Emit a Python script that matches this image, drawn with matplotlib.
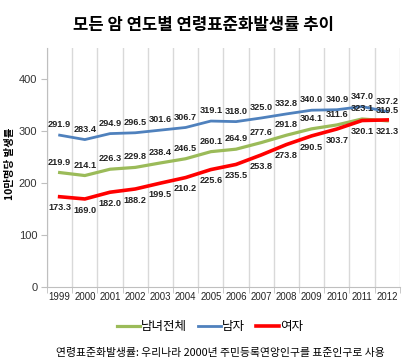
import matplotlib
matplotlib.use("Agg")
import matplotlib.pyplot as plt
import numpy as np

plt.rcParams['font.family'] = ['Noto Sans CJK KR', 'DejaVu Sans']

years = ['1999', '2000', '2001', '2002', '2003', '2004', '2005',
         '2006', '2007', '2008', '2009', '2010', '2011', '2012']
total = [219.9, 214.1, 226.3, 229.8, 238.4, 246.5, 260.1,
         264.9, 277.6, 291.8, 304.1, 311.6, 323.1, 319.5]
male = [291.9, 283.4, 294.9, 296.5, 301.6, 306.7, 319.1,
        318.0, 325.0, 332.8, 340.0, 340.9, 347.0, 337.2]
female = [173.3, 169.0, 182.0, 188.2, 199.5, 210.2, 225.6,
          235.5, 253.8, 273.8, 290.5, 303.7, 320.1, 321.3]
series_names = ['남녀전체', '남자', '여자']

fig = plt.figure(figsize=(4.2, 3.64), dpi=100)
ax = fig.add_axes([0.112, 0.2124, 0.84, 0.656])

x = np.arange(len(years))
ax.plot(x, total, color='#9bbb59', lw=2.3, label=series_names[0], zorder=3)
ax.plot(x, male, color='#4f81bd', lw=2.0, label=series_names[1], zorder=3)
ax.plot(x, female, color='#ff0000', lw=2.6, label=series_names[2], zorder=3)

# value labels: above for total / male, below for female
lab_kw = dict(ha='center', va='center', fontsize=6.6, fontweight='bold',
              color='#222222', family=['Liberation Sans', 'DejaVu Sans'])
for xi, v in zip(x, total):
    ax.annotate(f'{v:.1f}', (xi, v), xytext=(0, 7.5), textcoords='offset points', **lab_kw)
for xi, v in zip(x, male):
    ax.annotate(f'{v:.1f}', (xi, v), xytext=(0, 7.5), textcoords='offset points', **lab_kw)
for xi, v in zip(x, female):
    ax.annotate(f'{v:.1f}', (xi, v), xytext=(0, -8), textcoords='offset points', **lab_kw)

ax.set_xlim(-0.5, len(years) - 0.5)
ax.set_ylim(0, 460)
ax.set_yticks([0, 100, 200, 300, 400])
ax.set_xticks(x)
ax.set_xticklabels(years)
ax.set_xticks(np.arange(-0.5, len(years)), minor=True)
ax.grid(axis='x', which='minor', color='#d9d9d9', lw=1.0)
ax.tick_params(axis='x', which='major', length=0, labelsize=6.9, pad=4, colors='#222222')
ax.tick_params(axis='x', which='minor', length=4, color='#bfbfbf')
ax.tick_params(axis='y', length=4, color='#bfbfbf', labelsize=8, labelcolor='#333333', pad=3)
for lbl in ax.get_xticklabels() + ax.get_yticklabels():
    lbl.set_family(['Liberation Sans', 'DejaVu Sans'])

for s in ['top', 'right']:
    ax.spines[s].set_visible(False)
ax.spines['left'].set_color('#bfbfbf')
ax.spines['bottom'].set_color('#bfbfbf')

fig.text(0.024, 0.55, '10만명당 발생률', rotation=90, ha='center', va='center',
         fontsize=7.5, fontweight='bold')

fig.text(0.485, 0.931, '모든 암 연도별 연령표준화발생률 추이', ha='center', va='center',
         fontsize=12, fontweight='bold')

fig.legend(loc='center', bbox_to_anchor=(0.5, 0.102), ncol=3, frameon=False,
           fontsize=9, handlelength=1.8, handletextpad=0.1, columnspacing=0.9)

fig.text(0.525, 0.03, '연령표준화발생률: 우리나라 2000년 주민등록연앙인구를 표준인구로 사용',
         ha='center', va='center', fontsize=7.8)

fig.savefig('out.png', dpi=100)
